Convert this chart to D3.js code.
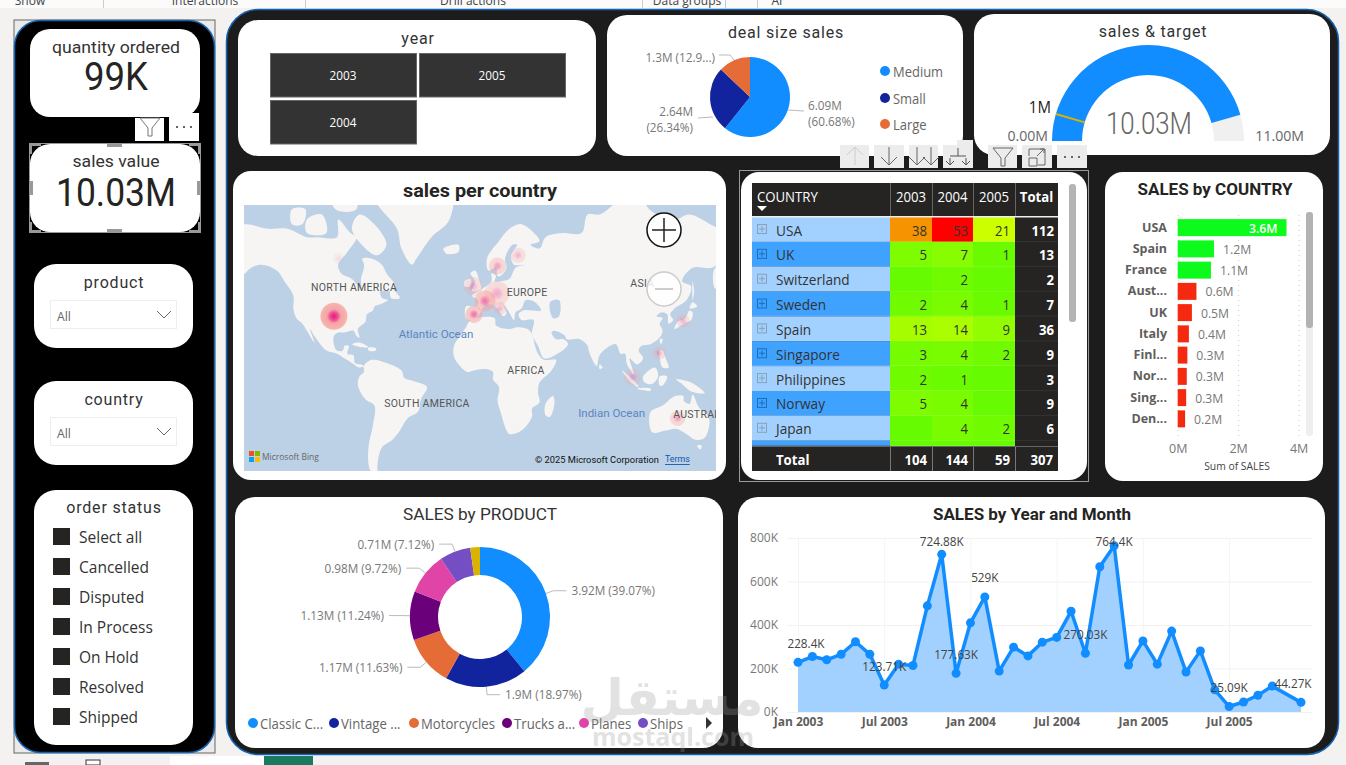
<!DOCTYPE html>
<html><head><meta charset="utf-8">
<script src="https://cdnjs.cloudflare.com/ajax/libs/d3/7.8.5/d3.min.js"></script>
<style>html,body{margin:0;padding:0;background:#f3f2f1;overflow:hidden}svg{display:block}</style>
</head><body><svg id="c" width="1346" height="765"></svg>
<script>
// ---------- DATA ----------
const ribbonLabels=["Show","Interactions","Drill actions","Data groups","AI"];
const yearSlicer=["2003","2005","2004"];
const orderStatus=["Select all","Cancelled","Disputed","In Process","On Hold","Resolved","Shipped"];
const dealSizes=["Medium","Small","Large"];
const dealSales=[6.09,2.64,1.30];
const dealLabels=["6.09M (60.68%)","2.64M (26.34%)","1.3M (12.9...)"];
const gaugeValue=10.03, gaugeMax=11, gaugeTarget=1;
const matrixCountries=["USA","UK","Switzerland","Sweden","Spain","Singapore","Philippines","Norway","Japan",""];
const orders2003=[38,5,null,2,13,3,2,5,null,null];
const orders2004=[53,7,2,4,14,4,1,4,4,null];
const orders2005=[21,1,null,1,9,2,null,null,2,null];
const ordersTotal=[112,13,2,7,36,9,3,9,6,null];
const matrixTotals=[104,144,59,307];
const barCountries=["USA","Spain","France","Aust...","UK","Italy","Finl...","Nor...","Sing...","Den..."];
const barSales=[3.6,1.2,1.1,0.62,0.47,0.37,0.32,0.30,0.28,0.245];
const barLabels=["3.6M","1.2M","1.1M","0.6M","0.5M","0.4M","0.3M","0.3M","0.3M","0.2M"];
const productNames=["Classic C...","Vintage ...","Motorcycles","Trucks a...","Planes","Ships"];
const productShares=[39.07,18.97,11.63,11.24,9.72,7.12,2.25];
const productLabels=["3.92M (39.07%)","1.9M (18.97%)","1.17M (11.63%)","1.13M (11.24%)","0.98M (9.72%)","0.71M (7.12%)",""];
const monthIndex=[0,1,2,3,4,5,6,7,8,9,10,11,12,13,14,15,16,17,18,19,20,21,22,23,24,25,26,27,28,29,30,31,32,33,35];
const monthSales=[228.4,255,240,265,323,265,123.71,220,214,488,724.88,177.63,410,529,188,298,258,321,343,463,270.03,668,764.4,216,327,220,372,184,281,102,25.09,46,77,119,44.27];
const labelledMonths={0:"228.4K",6:"123.71K",10:"724.88K",11:"177.63K",13:"529K",20:"270.03K",22:"764.4K",30:"25.09K",35:"44.27K"};
const mapBubbles=[["USA",-97,38,14,1],["Spain",-3.7,39,9,.6],["France",3.7,45.6,11,.6],["Germany",11.7,49,13,.35],["Italy",13.7,42,7,.3],["Norway",12,59.6,9,.4],["Sweden",25.7,63,8,.3],["UK",-4.3,52,10,.3],["Canada",-94,62,6,.12],["Japan",135.6,35.5,7,.3],["Philippines",119.7,16.4,7,.3],["Singapore",102,.6,9,.25],["Australia",132,-26,8,.4]];
const mapPlaceLabels=[["NORTH AMERICA",-83.6,51.5,"middle"],["EUROPE",31.7,49.6,"middle"],["SOUTH AMERICA",-35,-17,"middle"],["AFRICA",31,5,"middle"],["ASIA",108.5,53,"middle"],["AUSTRALIA",129,-23.5,"start"]];
const mapOceanLabels=[["Atlantic Ocean",-29,28,"middle"],["Indian Ocean",88,-23,"middle"]];
const landShapes=[
[[-168,66],[-162,70],[-156,71],[-141,70],[-128,70],[-115,68],[-108,68],[-95,68],[-94,72],[-86,69],[-82,68],[-88,64],[-94,60],[-92,57],[-85,55],[-82,53],[-79,51],[-79,55],[-77,60],[-78,62],[-72,62],[-65,60],[-62,57],[-56,52],[-60,50],[-66,50],[-65,47],[-61,46],[-66,44],[-70,43],[-71,41],[-75,39],[-76,35],[-81,31],[-80,26],[-82,27],[-84,30],[-90,29],[-94,29],[-97,27],[-97,22],[-95,18],[-91,18],[-90,21],[-87,21],[-88,16],[-84,15],[-83,10],[-79,9],[-77,8],[-80,7],[-85,10],[-90,13],[-95,16],[-102,18],[-106,22],[-110,27],[-113,31],[-110,23],[-115,30],[-118,34],[-122,37],[-124,42],[-124,48],[-130,54],[-135,58],[-145,60],[-152,59],[-160,55],[-165,54],[-158,59],[-165,62],[-165,65]],
[[-80,73],[-70,71],[-62,66],[-68,63],[-76,65],[-85,70]],
[[-115,72],[-105,73],[-102,69],[-115,69]],
[[-125,74],[-116,74],[-118,71],[-125,71]],
[[-100,78],[-85,78],[-82,74],[-96,74]],
[[-90,80],[-70,83],[-62,82],[-75,77],[-88,76]],
[[-55,82],[-30,83],[-18,80],[-20,72],[-32,68],[-42,62],[-45,60],[-52,65],[-55,70],[-70,76],[-65,80]],
[[-24,65],[-14,66],[-14,64],[-22,63.5]],
[[-59,51],[-53,47],[-59,47]],
[[-85,22],[-80,23],[-74,20],[-78,20]],
[[-74,19.8],[-69,19.5],[-69,18],[-74,18]],
[[-77,8],[-72,12],[-62,10],[-52,5],[-50,0],[-44,-2],[-35,-6],[-39,-14],[-41,-22],[-48,-26],[-53,-33],[-58,-38],[-65,-42],[-68,-50],[-68,-55],[-73,-52],[-74,-42],[-71,-30],[-70,-18],[-76,-14],[-81,-5],[-80,1],[-77,4]],
[[-6,36],[10,37],[11,33],[20,31],[25,32],[32,31],[35,28],[37,21],[39,16],[43,12],[51,12],[48,5],[40,-3],[39,-10],[40,-16],[35,-20],[35,-25],[28,-33],[20,-35],[18,-33],[14,-22],[12,-15],[13,-6],[9,-1],[9,4],[4,6],[-4,5],[-8,4],[-13,8],[-17,14],[-17,21],[-13,27],[-9,32]],
[[49,-12],[50,-16],[47,-25],[44,-24],[44,-17]],
[[-9,37],[-9,43],[-2,43],[-1,46],[-5,48],[2,51],[8,54],[8,57],[11,56],[10,54],[14,54],[20,55],[24,59],[30,60],[23,60],[21,63],[25,66],[22,66],[17,62],[18,59],[14,56],[12,56],[11,59],[6,58],[5,62],[13,67],[20,70],[28,71],[40,67],[34,66],[40,65],[44,68],[55,69],[68,69],[72,73],[80,73],[90,75],[105,78],[113,74],[130,72],[140,73],[160,70],[178,69],[180,65],[178,62],[170,60],[163,56],[157,51],[156,58],[163,62],[155,59],[142,59],[135,54],[141,52],[138,46],[130,42],[127,39],[129,36],[126,34],[125,39],[121,40],[118,38],[122,37],[120,34],[122,30],[120,26],[114,22],[108,21],[106,18],[109,13],[105,9],[100,13],[103,2],[100,6],[98,10],[97,16],[94,16],[91,22],[87,21],[80,15],[78,8],[73,17],[72,21],[67,25],[58,25],[57,27],[50,30],[48,29],[51,25],[56,25],[59,22],[52,16],[43,13],[39,21],[35,28],[36,36],[28,36],[26,39],[29,41],[41,41],[37,45],[31,46],[28,42],[24,40],[23,36],[19,41],[14,45],[18,40],[16,38],[12,42],[8,44],[3,43],[0,39],[-2,37],[-6,36]],
[[-5,50],[1,51],[0,54],[-3,58],[-6,57],[-3,54]],[[-10,52],[-6,52],[-6,55],[-10,54]],
[[130,31],[136,34],[141,36],[142,40],[140,41],[137,37],[132,35]],[[140,42],[145,43],[142,45]],[[142,54],[143,50],[142,46]],
[[120,18],[122,18],[124,13],[126,7],[122,7],[120,14]],[[80,9],[82,7],[80,6]],[[120,25],[122,25],[121,22]],
[[95,5],[104,-3],[106,-6],[101,-3]],[[109,1],[117,7],[119,1],[115,-4],[110,-3]],[[105,-7],[114,-7],[114,-8.5],[106,-7.5]],[[120,1],[125,1],[122,-5],[120,-5]],
[[131,-1],[141,-3],[150,-10],[141,-9],[135,-4]],
[[114,-22],[122,-18],[130,-12],[136,-12],[136,-15],[140,-17],[142,-11],[146,-19],[153,-26],[150,-37],[144,-38],[138,-35],[131,-32],[124,-33],[115,-34]],
[[145,-41],[148,-41],[147,-43]]];
const inlandWater=[[[47,45],[53,46],[53,38],[49,37]],[[-94,60],[-92,57],[-85,55],[-82,53],[-79,51],[-79,55],[-77,60],[-82,63],[-88,63]]];

// ---------- HELPERS ----------
const DIN="Roboto, 'Noto Sans', sans-serif", SEG="'Open Sans','Noto Sans',sans-serif";
const svg=d3.select("#c");
function rect(g,x,y,w,h,fill,o={}){return g.append("rect").attr("x",x).attr("y",y).attr("width",w).attr("height",h).attr("fill",fill).attr("rx",o.r||0).attr("stroke",o.stroke||"none").attr("stroke-width",o.sw||1)}
function text(g,x,y,s,size,fill,o={}){const t=g.append("text").attr("x",x).attr("y",y).text(s).attr("font-size",size).attr("fill",fill).attr("font-family",o.f||SEG).attr("text-anchor",o.a||"start").attr("dominant-baseline","central").attr("font-weight",o.w||400);if(o.ls)t.attr("letter-spacing",o.ls);
 const sx=o.sx||((o.f||SEG)===SEG?.94:1);
 if(o.len)t.attr("textLength",o.len).attr("lengthAdjust","spacingAndGlyphs");
 else if(sx!==1&&String(s).length){t.attr("textLength",t.node().getComputedTextLength()*sx).attr("lengthAdjust","spacingAndGlyphs")}
 return t}
const BLUE="#118DFF",NAVY="#12239E",ORANGE="#E66C37",PURPLE="#6B007B",PINK="#E044A7",VIOLET="#744EC2",GOLD="#D9B300";

// ---------- PAGE ----------
rect(svg,0,0,1346,765,"#f3f2f1");
rect(svg,0,0,1346,8,"#fbfbfb");
[[30,0],[205,1],[473,2],[687,3],[777,4]].forEach(([x,i])=>text(svg,x,0,ribbonLabels[i],12,"#444",{a:"middle",sx:1}));
[103,305,642,725,757].forEach(x=>rect(svg,x,0,1,8,"#ccc"));
rect(svg,170,756,1176,9,"#fff");rect(svg,313,756,1033,9,"#f2f2f2");rect(svg,264,756,49,9,"#1a7a60");
rect(svg,25,762,24,3,"#666");rect(svg,86,760,14,5,"#fff",{stroke:"#333"});

// left panel
rect(svg,14,20,201,733,"#eaeaea",{stroke:"#666"});
rect(svg,14.5,20.5,200,732,"#000",{r:26,stroke:"#1464b4",sw:1.5});
// main panel
rect(svg,226.5,9.5,1112,745,"#1c1c1c",{r:32,stroke:"#1464b4",sw:1.5});

function card(x,y,w,h,r){return rect(svg,x,y,w,h,"#fff",{r:r||20})}
// KPI
card(30,29,170,88,20);
text(svg,116,47,"quantity ordered",16,"#333",{a:"middle",f:DIN,len:128});
text(svg,116,77,"99K",38,"#252423",{a:"middle",f:DIN,len:64});
rect(svg,135,118,29,23,"#fff");rect(svg,169,113,30,28,"#fff");
function filterIcon(x,y,c){svg.append("path").attr("d",`M${x-10},${y-9}h20l-8,10v8h-4v-8z`).attr("fill","none").attr("stroke",c||"#777")}
filterIcon(150,127);
function dots(x,y,c){[-7,0,7].forEach(d=>rect(svg,x+d-1,y-1,2,2,c||"#666"))}
dots(184,127);
card(30,144,170,88,20);
text(svg,116,161,"sales value",16,"#333",{a:"middle",f:DIN,len:87});
text(svg,116,193,"10.03M",38,"#252423",{a:"middle",f:DIN,len:120});
// selection handles
svg.append("rect").attr("x",29.5).attr("y",143.5).attr("width",171).attr("height",89).attr("fill","none").attr("stroke","#999");
const H="#999";
[[29,143],[189,143],[29,222],[189,222]].forEach(([x,y],i)=>{rect(svg,x,y,12,3,H).attr("y",y+(i>1?8:0));rect(svg,x+(i%2?9:0),y,3,11,H)});
rect(svg,107,143,15,4,H);rect(svg,107,229,15,4,H);rect(svg,29,181,4,14,H);rect(svg,197,181,4,14,H);

// slicers
function dropSlicer(y,title){card(34,y,159,84,22);
 text(svg,114,y+18,title,16,"#333",{a:"middle",f:DIN,ls:.8});
 rect(svg,50.5,y+36.5,126,28,"#fff",{stroke:"#eee"});
 text(svg,57,y+52,"All",13,"#666",{});
 svg.append("path").attr("d",`M${157},${y+47}l7,7l7,-7`).attr("fill","none").attr("stroke","#666");}
dropSlicer(264,"product");dropSlicer(381,"country");
card(34,490,159,255,22);
text(svg,114,507,"order status",16,"#333",{a:"middle",f:DIN,ls:.8});
const statusY=d3.scalePoint().domain(orderStatus).range([537,717]);
orderStatus.forEach(s=>{rect(svg,53,statusY(s)-9,17,17,"#252423");text(svg,79,statusY(s)-1,s,16.5,"#333",{})});

// year
card(238,20,358,136,20);
text(svg,418,38,"year",16,"#333",{a:"middle",f:DIN,ls:.8});
[[270,53,0],[419,53,1],[270,100,2]].forEach(([x,y,i])=>{rect(svg,x+.5,y+.5,146,43.5,"#333",{stroke:"#666"});text(svg,x+73,y+22.5,yearSlicer[i],12.5,"#fff",{a:"middle"})});

// ---------- deal pie ----------
card(607,15,356,141,20);
text(svg,786,32,"deal size sales",16,"#333",{a:"middle",f:DIN,ls:.8});
const dealColor=d3.scaleOrdinal(dealSizes,[BLUE,NAVY,ORANGE]);
const pie=d3.pie().sort(null);
const pg=svg.append("g").attr("transform","translate(750,97)");
const dealArcs=pie(dealSales);
pg.selectAll("path").data(dealArcs).join("path").attr("d",d3.arc().innerRadius(0).outerRadius(40)).attr("fill",(d,i)=>dealColor(dealSizes[i]));
const LG="#777";
function leader(d,x0,y0,x1,y1){svg.append("path").attr("d",`M${x0},${y0}L${x1},${y1}`+(d||"")).attr("fill","none").attr("stroke","#bbb")}
leader("",788,110,804,111);leader("",713,117,698,118);leader("L734,60",719,55,730,55);
text(svg,808,105,dealLabels[0].split(" ")[0],12.5,LG);text(svg,808,121,dealLabels[0].split(" ")[1],12.5,LG);
text(svg,693,111,dealLabels[1].split(" ")[0],12.5,LG,{a:"end"});text(svg,693,127,dealLabels[1].split(" ")[1],12.5,LG,{a:"end"});
text(svg,715,57,dealLabels[2],12.5,LG,{a:"end"});
dealSizes.forEach((s,i)=>{const y=[71,98,124][i];svg.append("circle").attr("cx",885).attr("cy",y).attr("r",5).attr("fill",dealColor(s));text(svg,893,y,s,13.8,"#666")});

// ---------- gauge ----------
card(974,14,356,141,20);
text(svg,1153,31,"sales & target",16,"#333",{a:"middle",f:DIN,ls:.8});
const ga=d3.scaleLinear().domain([0,gaugeMax]).range([-Math.PI/2,Math.PI/2]);
const gg=svg.append("g").attr("transform","translate(1148,141)");
const garc=d3.arc().innerRadius(66).outerRadius(96);
gg.append("path").attr("d",garc({startAngle:ga(0),endAngle:ga(gaugeMax)})).attr("fill","#f0f0f0");
gg.append("path").attr("d",garc({startAngle:ga(0),endAngle:ga(gaugeValue)})).attr("fill",BLUE);
const ta=ga(gaugeTarget);
gg.append("line").attr("x1",66*Math.sin(ta)).attr("y1",-66*Math.cos(ta)).attr("x2",96*Math.sin(ta)).attr("y2",-96*Math.cos(ta)).attr("stroke",GOLD).attr("stroke-width",2);
text(svg,1051,107,gaugeTarget+"M",16,"#222",{a:"end"});
text(svg,1048,135,"0.00M",15,"#666",{a:"end"});
text(svg,1304,135,gaugeMax.toFixed(2)+"M",15,"#666",{a:"end"});
text(svg,1149,123,gaugeValue+"M",32,"#666",{a:"middle",f:DIN,w:300,len:86});

// ---------- map ----------
card(233,171,493,309,18);
text(svg,480,190,"sales per country",19,"#252423",{a:"middle",f:DIN,w:700,len:154});
const defs=svg.append("defs");
defs.append("clipPath").attr("id","mapClip").append("rect").attr("x",244).attr("y",205).attr("width",472).attr("height",266);
const rg=defs.append("radialGradient").attr("id","bub");
[[0,"#e8187a",1],[.3,"#ee4a8e",.95],[.5,"#f59aa0",.9],[.92,"#f6a9a0",.85],[1,"#f9b5a8",.1]].forEach(([o,c,a])=>rg.append("stop").attr("offset",o).attr("stop-color",c).attr("stop-opacity",a));
const proj=d3.geoMercator().scale(86).translate([479.5,378]);
const mg=svg.append("g").attr("clip-path","url(#mapClip)");
rect(mg,244,205,472,266,"#bcd0e6");
const polyPath=p=>d3.line().curve(d3.curveCatmullRomClosed.alpha(.5))(p.map(c=>proj(c)));
mg.selectAll("path.land").data(landShapes).join("path").attr("class","land").attr("d",polyPath).attr("fill","#f6f5f4");
mg.selectAll("path.water").data(inlandWater).join("path").attr("class","water").attr("d",polyPath).attr("fill","#bcd0e6");
mapBubbles.forEach(([n,lon,lat,r,a])=>{const p=proj([lon,lat]);mg.append("circle").attr("cx",p[0]).attr("cy",p[1]).attr("r",r).attr("fill","url(#bub)").attr("opacity",a)});
mapPlaceLabels.forEach(([s,lon,lat,an])=>{const p=proj([lon,lat]);text(mg,p[0],p[1],s,10.5,"#555",{a:an,f:"Roboto",ls:.3})});
mapOceanLabels.forEach(([s,lon,lat,an])=>{const p=proj([lon,lat]);text(mg,p[0],p[1],s,11.5,"#5a86c0",{a:an,f:"Roboto"})});
// controls and attribution
svg.append("circle").attr("cx",664).attr("cy",230).attr("r",17).attr("fill","#fff").attr("stroke","#111").attr("stroke-width",1.5);
svg.append("path").attr("d","M652,230h24M664,218v24").attr("stroke","#222").attr("stroke-width",1.5);
svg.append("circle").attr("cx",664).attr("cy",289).attr("r",17).attr("fill","#fff").attr("fill-opacity",.85).attr("stroke","#ccc").attr("stroke-width",1.5);
svg.append("path").attr("d","M655,289h18").attr("stroke","#ccc").attr("stroke-width",2);
[["#f25022",249,451],["#7fba00",255,451],["#00a4ef",249,457],["#ffb900",255,457]].forEach(([c,x,y])=>rect(svg,x,y,5,5,c));
text(svg,262,456,"Microsoft Bing",9,"#666",{});
text(svg,535,459,"© 2025 Microsoft Corporation",9.3,"#111",{f:"Roboto"});
text(svg,665,459,"Terms",8.8,"#0b57b0",{f:"Roboto"}).attr("text-decoration","underline");

// ---------- toolbar ----------
[[840,29],[874,30],[909,29],[943,30],[988,29],[1022,30],[1057,30]].forEach(([x,w])=>rect(svg,x,145,w,23,"#ececec"));
rect(svg,957,140,16,15,"#ececec");
function arrow(x,dir,c){svg.append("path").attr("d",dir>0?`M${x},147v18M${x-8},157l8,8l8,-8`:`M${x},165v-18M${x-8},155l8,-8l8,8`).attr("fill","none").attr("stroke",c||"#666")}
arrow(855,-1,"#ccc");arrow(889,1);arrow(917,1);arrow(931,1);
svg.append("path").attr("d","M950,158v7M946,161l4,4l4,-4M966,158v7M962,161l4,4l4,-4M950,156h16M958,148v8").attr("fill","none").attr("stroke","#555");
filterIcon(1003,157,"#666");
svg.append("path").attr("d","M1029,156v-7h16v16h-7M1029,158h8v8h-8zM1037,156l7,-7M1040,149h4v4").attr("fill","none").attr("stroke","#666");
dots(1072,157);

// ---------- matrix ----------
rect(svg,739.5,170.5,349,311,"#1c1c1c",{stroke:"#999"});
card(741,172,346,308,18);
const colX=[752,890,932,973,1015,1058];
const rowTops=d3.range(0,10).map(i=>217+i*24.85);
const heat=d3.scaleLinear().domain([0,21,38,53]).range(["#66fb00","#ccff00","#f59300","#ff0000"]);
rect(svg,752,183,306,288,"#252423");
rect(svg,890,217,125,229,heat(0));
const yearCols=[orders2003,orders2004,orders2005];
matrixCountries.forEach((c,i)=>{const y=rowTops[i],h=i==9?5:24.85;
 rect(svg,752,y,138,h,i%2?"#3fa2ff":"#a2d1ff");
 yearCols.forEach((col,j)=>{rect(svg,colX[j+1],y,colX[j+2]-colX[j+1],h,heat(col[i]==null?0:col[i]));
  if(col[i]!=null)text(svg,colX[j+2]-5,y+13,col[i],14,"#333",{a:"end"})});
 if(i<9){rect(svg,757.5,y+7.5,9,9,"none",{stroke:i%2?"#1d6fb8":"#8aa0b8"});
  svg.append("path").attr("d",`M759,${y+12}h6M762,${y+9}v6`).attr("stroke",i%2?"#1d6fb8":"#8aa0b8");
  text(svg,776,y+13,c,14.5,"#333");
  text(svg,1054,y+13,ordersTotal[i],14,"#fff",{a:"end",w:700});
  rect(svg,1015,y+24,43,1,"#333");}
 rect(svg,752,y+(i==9?5:24.2),263,.7,"#ffffff").attr("opacity",.25);
});
text(svg,757,196,"COUNTRY",14,"#fff");
svg.append("path").attr("d","M757,206h10l-5,5z").attr("fill","#fff");
["2003","2004","2005"].forEach((y,i)=>text(svg,(colX[i+1]+colX[i+2])/2,196,y,14,"#fff",{a:"middle"}));
text(svg,1036.5,196,"Total",14,"#fff",{a:"middle",w:700});
colX.slice(1,5).forEach(x=>{rect(svg,x,183,1,34,"#666");rect(svg,x,446,1,25,"#777")});
rect(svg,752,216,306,1.5,"#eee");rect(svg,752,446,306,1,"#666");
text(svg,776,459,"Total",14,"#fff",{w:700});
matrixTotals.forEach((t,i)=>text(svg,colX[i+2]-5,459,t,14,"#fff",{a:"end",w:700}));
rect(svg,1069,184,7,138,"#b4b4b4",{r:3});

// ---------- bar chart ----------
card(1105,172,218,309,18);
text(svg,1215,189,"SALES by COUNTRY",17,"#252423",{a:"middle",f:DIN,w:700});
const bx=d3.scaleLinear().domain([0,4]).range([1177.7,1298.6]);
const by=d3.scaleBand().domain(barCountries).range([217,429.5]).paddingInner(.2).paddingOuter(.1);
const xAxisB=svg.append("g").attr("transform","translate(0,436)").call(d3.axisBottom(bx).tickValues([0,2,4]).tickFormat(d=>d+"M").tickSize(-224).tickPadding(0));
xAxisB.select(".domain").remove();
xAxisB.selectAll("line").attr("stroke","#ccc").attr("stroke-dasharray","1 4");
xAxisB.selectAll("text").attr("dy",0).attr("y",12).attr("fill","#777").attr("font-size",12.5).attr("font-family",SEG).attr("dominant-baseline","central");
const yAxisB=svg.append("g").attr("transform","translate(1177,0)").call(d3.axisLeft(by).tickSize(0).tickPadding(10));
yAxisB.select(".domain").remove();
yAxisB.selectAll("text").attr("fill","#605e5c").attr("font-size",12.5).attr("font-weight",700).attr("font-family",SEG);
svg.selectAll("rect.b").data(barCountries).join("rect").attr("class","b").attr("x",bx(0)).attr("y",d=>by(d)).attr("height",by.bandwidth()).attr("width",(d,i)=>bx(barSales[i])-bx(0)).attr("fill",(d,i)=>barSales[i]>=1?"#0cfa1c":"#f5290f");
barCountries.forEach((c,i)=>{const inside=i==0;text(svg,inside?bx(barSales[i])-9:bx(barSales[i])+9,by(c)+by.bandwidth()/2,barLabels[i],13,inside?"#fff":"#777",{a:inside?"end":"start",w:inside?600:400})});
text(svg,1237,465,"Sum of SALES",11,"#444",{a:"middle"});
rect(svg,1306,212,7,224,"#eee",{r:3});rect(svg,1306,212,7,116,"#b3b3b3",{r:3});

// ---------- donut ----------
card(235,497,488,251,20);
text(svg,480,514,"SALES by PRODUCT",17,"#333",{a:"middle",f:DIN,len:154});
const prodColors=[BLUE,NAVY,ORANGE,PURPLE,PINK,VIOLET,GOLD];
const dg=svg.append("g").attr("transform","translate(480,617)");
const prodArcs=pie(productShares);
dg.selectAll("path").data(prodArcs).join("path").attr("d",d3.arc().innerRadius(42).outerRadius(70)).attr("fill",(d,i)=>prodColors[i]);
prodArcs.forEach((a,i)=>{if(!productLabels[i])return;
 const m=(a.startAngle+a.endAngle)/2,s=Math.sin(m),c=-Math.cos(m),sgn=s>=0?1:-1;
 const x1=70*s,y1=70*c,x2=78*s,y2=78*c,x3=x2+sgn*13;
 dg.append("path").attr("d",`M${x1},${y1}L${x2},${y2}L${x3},${y2}`).attr("fill","none").attr("stroke","#bbb");
 text(dg,x3+sgn*5,y2,productLabels[i],12.5,"#777",{a:sgn>0?"start":"end"});
});
const legX=d3.scaleOrdinal(productNames,[253,334,414,507,584,643]);
productNames.forEach((n,i)=>{svg.append("circle").attr("cx",legX(n)).attr("cy",723).attr("r",5).attr("fill",prodColors[i]);text(svg,legX(n)+7,723,n,14,"#666")});
svg.append("path").attr("d","M706,717l6,6l-6,6z").attr("fill","#333");

// ---------- area line ----------
card(738,497,587,251,20);
text(svg,1032,514,"SALES by Year and Month",17,"#252423",{a:"middle",f:DIN,w:700});
const lx=d3.scaleLinear().domain([0,35]).range([798,1301]);
const ly=d3.scaleLinear().domain([0,800]).range([712,538]);
const lineData=monthIndex.map((m,i)=>({m,v:monthSales[i]}));
const ya=svg.append("g").attr("transform","translate(787,0)").call(d3.axisLeft(ly).tickValues([0,200,400,600,800]).tickFormat(d=>d+"K").tickSize(-525).tickPadding(9));
ya.select(".domain").remove();ya.selectAll("line").attr("stroke","#f2f2f2");
ya.selectAll("text").attr("fill","#777").attr("font-size",12).attr("font-family",SEG);
const tickMonths=[0,6,12,18,24,30];
const tickNames=["Jan 2003","Jul 2003","Jan 2004","Jul 2004","Jan 2005","Jul 2005"];
const xa=svg.append("g").attr("transform","translate(0,712)").call(d3.axisBottom(lx).tickValues(tickMonths).tickFormat((d,i)=>tickNames[i]).tickSize(-174).tickPadding(5));
xa.select(".domain").remove();xa.selectAll("line").attr("stroke","#f4f4f4");
xa.selectAll("text").attr("fill","#605e5c").attr("font-size",12).attr("font-weight",700).attr("font-family",SEG);
svg.append("path").datum(lineData).attr("d",d3.area().x(d=>lx(d.m)).y0(ly(0)).y1(d=>ly(d.v))).attr("fill","#a2d1ff");
svg.append("path").datum(lineData).attr("d",d3.line().x(d=>lx(d.m)).y(d=>ly(d.v))).attr("fill","none").attr("stroke",BLUE).attr("stroke-width",3.5).attr("stroke-linejoin","round");
svg.selectAll("circle.p").data(lineData).join("circle").attr("class","p").attr("cx",d=>lx(d.m)).attr("cy",d=>ly(d.v)).attr("r",4.5).attr("fill",BLUE);
lineData.forEach(d=>{const s=labelledMonths[d.m];if(!s)return;
 const up=d.m==10?13:d.m==22?4:19, dx=d.m==0?8:d.m==35?-8:0;
 text(svg,lx(d.m)+dx,ly(d.v)-up,s,12.5,"#444",{a:"middle"});});

// ---------- watermark ----------
const wm=svg.append("g").attr("opacity",.28);
text(wm,672,698,"مستقل",50,"#999",{a:"middle",f:"'DejaVu Sans'",w:700});
text(wm,673,736,"mostaql.com",25,"#999",{a:"middle",f:"'Open Sans'",w:700,sx:1});
</script></body></html>
